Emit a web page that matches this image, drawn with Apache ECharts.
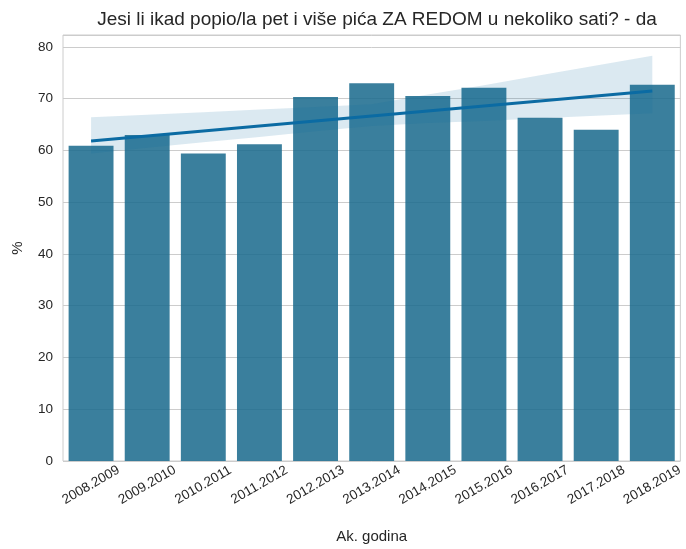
<!DOCTYPE html>
<html>
<head>
<meta charset="utf-8">
<script src="https://cdn.jsdelivr.net/npm/echarts@6/dist/echarts.min.js"></script>
<style>
html,body{margin:0;padding:0;background:#fff;}
#chart{width:686px;height:549px;}
</style>
</head>
<body>
<div id="chart"></div>
<script>
const categories = ['2008.2009','2009.2010','2010.2011','2011.2012','2012.2013','2013.2014','2014.2015','2015.2016','2016.2017','2017.2018','2018.2019'];
const percentValues = [60.9, 63.0, 59.4, 61.2, 70.3, 73.0, 70.5, 72.1, 66.3, 64.0, 72.7];
const trendStart = 61.8;
const trendEnd = 71.5;
const bandLower = [59.4, 60.5, 61.6, 62.6, 63.7, 64.7, 65.3, 65.7, 66.2, 66.7, 67.2];
const bandUpper = [66.4, 66.9, 67.4, 67.9, 68.4, 68.9, 70.8, 72.6, 74.5, 76.4, 78.3];
const yTicks = [0, 10, 20, 30, 40, 50, 60, 70, 80];

const bandWidth = bandUpper.map((u, i) => +(u - bandLower[i]).toFixed(2));
const textColor = '#262626';
const fontFam = '"Liberation Sans", Arial, sans-serif';

const chart = echarts.init(document.getElementById('chart'));
chart.setOption({
  backgroundColor: '#ffffff',
  animation: false,
  title: {
    text: 'Jesi li ikad popio/la pet i više pića ZA REDOM u nekoliko sati? - da',
    left: 372, textAlign: 'center', top: 5,
    textStyle: {fontSize: 19, fontWeight: 'normal', color: textColor, fontFamily: fontFam}
  },
  grid: {left: 63, right: 5, top: 35, bottom: 83, show: true, borderColor: '#cccccc', borderWidth: 1},
  xAxis: {
    type: 'category', data: categories, boundaryGap: true,
    name: 'Ak. godina', nameLocation: 'middle', nameGap: 68,
    nameTextStyle: {fontSize: 15, color: textColor, fontFamily: fontFam},
    axisLine: {show: false}, axisTick: {show: false},
    axisLabel: {rotate: 30, align: 'center', verticalAlign: 'middle', fontSize: 13.5, color: textColor,
      fontFamily: fontFam, margin: 24, interval: 0},
    splitLine: {show: false}
  },
  yAxis: {
    type: 'value', min: 0, max: 82.3, interval: 10,
    name: '%', nameLocation: 'middle', nameGap: 38,
    nameTextStyle: {fontSize: 15, color: textColor, fontFamily: fontFam},
    axisLine: {show: false}, axisTick: {show: false},
    axisLabel: {fontSize: 13.5, color: textColor, fontFamily: fontFam, margin: 10, showMaxLabel: false,
      formatter: v => yTicks.includes(v) ? String(v) : ''},
    splitLine: {lineStyle: {color: '#cccccc', width: 1}}
  },
  series: [
    {
      type: 'bar', data: percentValues, barCategoryGap: '20%',
      itemStyle: {color: '#18698c', opacity: 0.85},
      z: 2
    },
    {
      type: 'line', data: bandLower, stack: 'band', symbol: 'none',
      lineStyle: {opacity: 0}, z: 3, silent: true
    },
    {
      type: 'line', data: bandWidth, stack: 'band', symbol: 'none',
      lineStyle: {opacity: 0}, areaStyle: {color: 'rgba(11,107,163,0.15)', opacity: 1}, z: 3, silent: true
    },
    {
      type: 'line', data: [[categories[0], trendStart], [categories[categories.length - 1], trendEnd]],
      symbol: 'none', lineStyle: {color: '#0b6ba3', width: 3}, z: 4
    }
  ]
});
</script>
</body>
</html>
